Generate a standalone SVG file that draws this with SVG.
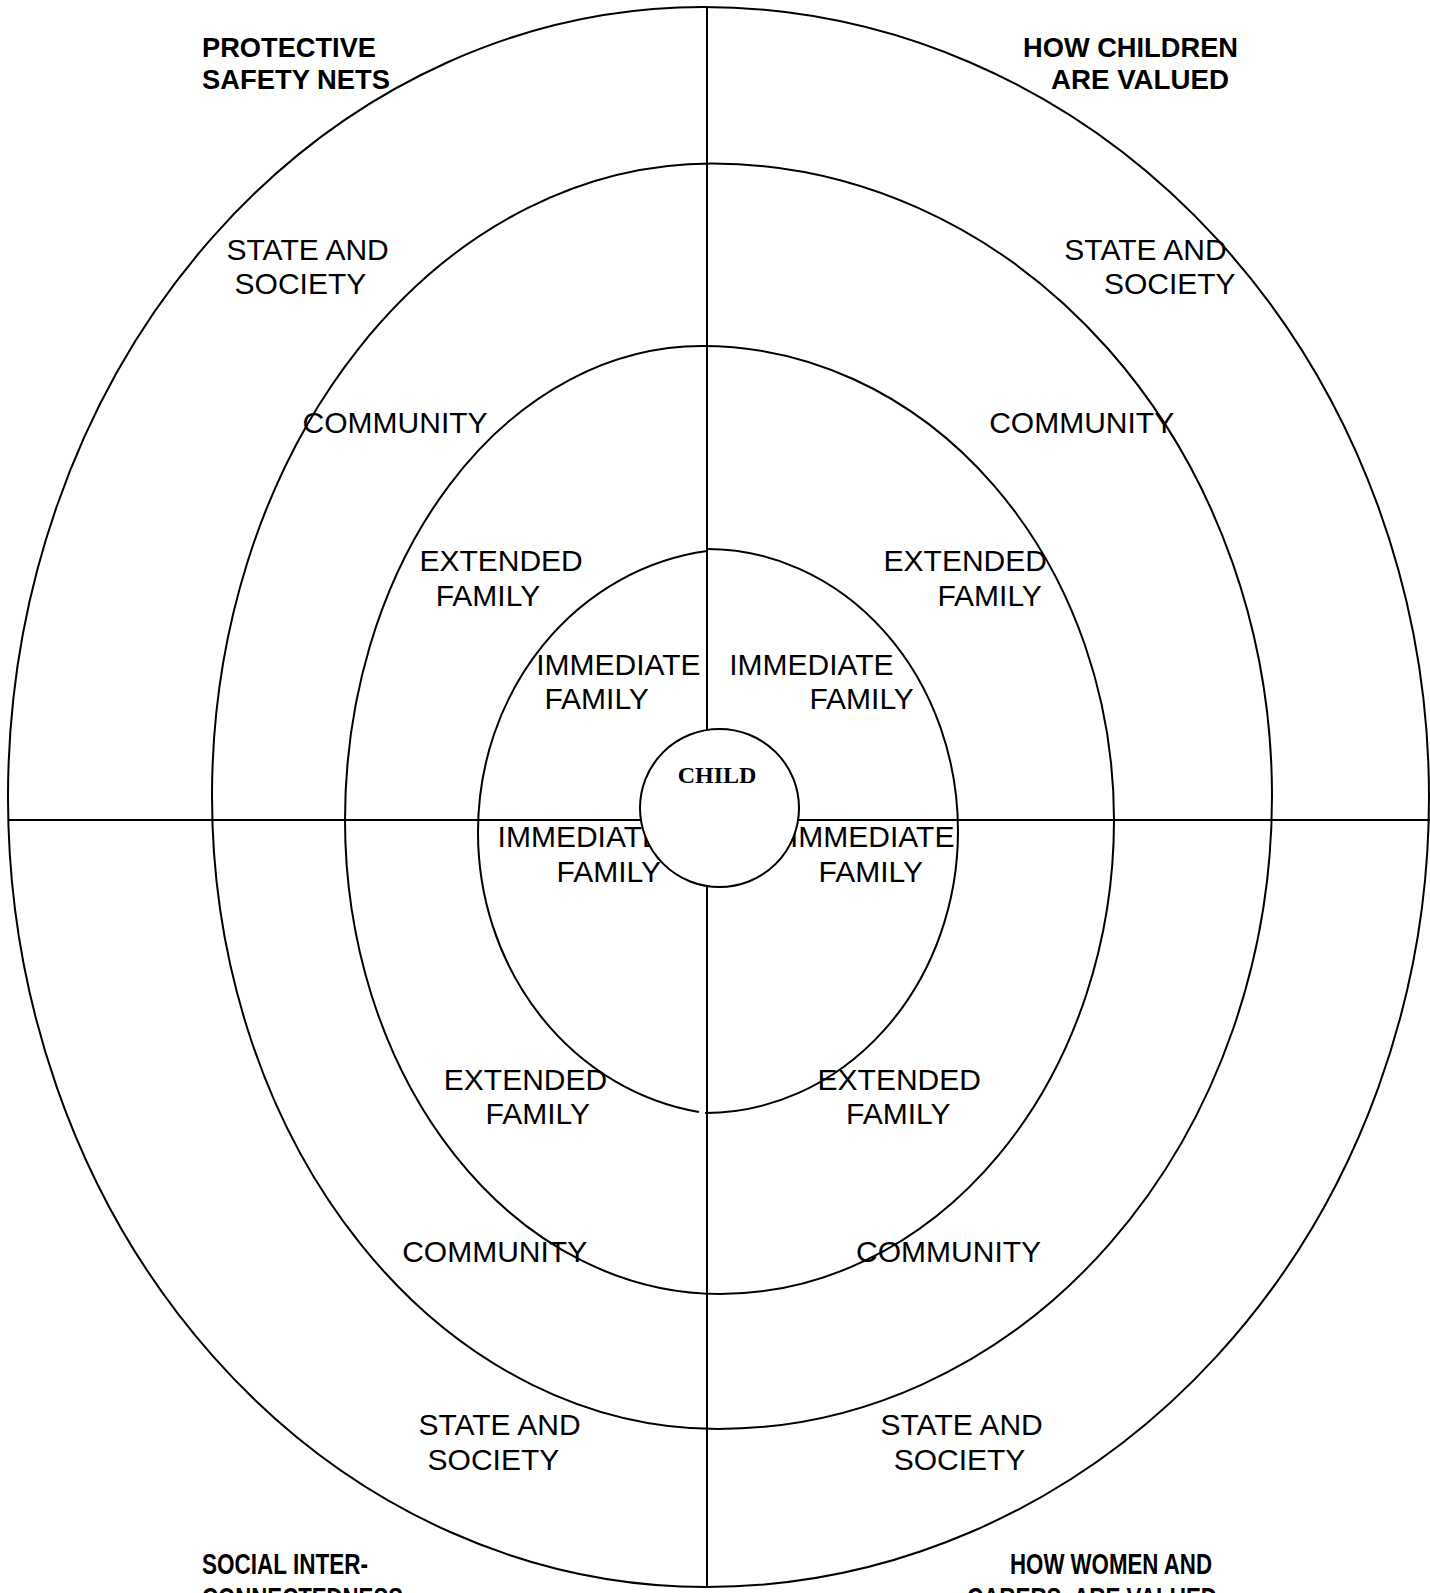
<svg xmlns="http://www.w3.org/2000/svg" width="1430" height="1593" viewBox="0 0 1430 1593">
<style>
.ring{fill:none;stroke:#000;stroke-width:2}
.ax{stroke:#000;stroke-width:2}
.lbl{font-family:"Liberation Sans",Arial,sans-serif;font-size:30px;fill:#000}
.hd{font-family:"Liberation Sans",Arial,sans-serif;font-weight:bold;font-size:28px;fill:#000}
.hd2{font-family:"Liberation Sans",Arial,sans-serif;font-weight:bold;font-size:29px;fill:#000}
.child{font-family:"Liberation Serif","Times New Roman",serif;font-weight:bold;font-size:24px;fill:#000}
</style>
<rect width="1430" height="1593" fill="#fff"/>
<g id="ring-state">
<path class="ring" d="M 8 797 A 695 790 0 0 1 703 7 A 726 790 0 0 1 1429 797 A 723 790 0 0 1 706 1587 A 698 790 0 0 1 8 797 Z"/>
</g>
<g id="ring-community">
<path class="ring" d="M 212 796 A 500 632.5 0 0 1 712 163.5 A 560 632.5 0 0 1 1272 796 A 554 633 0 0 1 718 1429 A 506 633 0 0 1 212 796 Z"/>
</g>
<g id="ring-extended">
<path class="ring" d="M 345 820 A 357 474 0 0 1 702 346 A 412 474 0 0 1 1114 820 A 394 474 0 0 1 720 1294 A 375 474 0 0 1 345 820 Z"/>
</g>
<g id="ring-immediate">
<path class="ring" d="M 707 551 A 262 283 0 0 0 478 831.5 A 262 283 0 0 0 699 1112"/>
<path class="ring" d="M 707 549 A 251 282 0 0 1 958 831 A 253 282 0 0 1 705 1113"/>
</g>
<g id="connectors">
<line class="ax" x1="8" y1="820" x2="1430" y2="820"/>
<line class="ax" x1="707" y1="7" x2="707" y2="1587"/>
</g>
<g id="headings">
<text class="hd" x="202" y="57" textLength="174" lengthAdjust="spacingAndGlyphs">PROTECTIVE</text>
<text class="hd" x="202" y="88.5" textLength="188" lengthAdjust="spacingAndGlyphs">SAFETY NETS</text>
<text class="hd" x="1023" y="57" textLength="215" lengthAdjust="spacingAndGlyphs">HOW CHILDREN</text>
<text class="hd" x="1051" y="88.5" textLength="178" lengthAdjust="spacingAndGlyphs">ARE VALUED</text>
<text class="hd2" x="202" y="1574" textLength="166" lengthAdjust="spacingAndGlyphs">SOCIAL INTER-</text>
<text class="hd2" x="202" y="1608" textLength="201" lengthAdjust="spacingAndGlyphs">CONNECTEDNESS</text>
<text class="hd2" x="1010" y="1574" textLength="202" lengthAdjust="spacingAndGlyphs">HOW WOMEN AND</text>
<text class="hd2" x="967" y="1608" textLength="250" lengthAdjust="spacingAndGlyphs" xml:space="preserve">CARERS  ARE VALUED</text>
</g>
<g id="labels-top-left">
<text class="lbl" x="226.5" y="260">STATE AND</text>
<text class="lbl" x="234.6" y="294">SOCIETY</text>
<text class="lbl" x="302.6" y="433">COMMUNITY</text>
<text class="lbl" x="419.4" y="571">EXTENDED</text>
<text class="lbl" x="435.7" y="606">FAMILY</text>
<text class="lbl" x="536.2" y="675">IMMEDIATE</text>
<text class="lbl" x="544.4" y="709">FAMILY</text>
</g>
<g id="labels-top-right">
<text class="lbl" x="1064.3" y="260">STATE AND</text>
<text class="lbl" x="1103.9" y="294">SOCIETY</text>
<text class="lbl" x="989.2" y="433">COMMUNITY</text>
<text class="lbl" x="883.6" y="571">EXTENDED</text>
<text class="lbl" x="937.4" y="606">FAMILY</text>
<text class="lbl" x="729.2" y="675">IMMEDIATE</text>
<text class="lbl" x="809.4" y="709">FAMILY</text>
</g>
<g id="labels-bottom-left">
<text class="lbl" x="497.6" y="847">IMMEDIATE</text>
<text class="lbl" x="556.5" y="882">FAMILY</text>
<text class="lbl" x="443.8" y="1090">EXTENDED</text>
<text class="lbl" x="485.5" y="1124">FAMILY</text>
<text class="lbl" x="402.2" y="1262">COMMUNITY</text>
<text class="lbl" x="418.4" y="1434.5">STATE AND</text>
<text class="lbl" x="427.6" y="1470">SOCIETY</text>
</g>
<g id="labels-bottom-right">
<text class="lbl" x="790" y="847">IMMEDIATE</text>
<text class="lbl" x="818.6" y="882">FAMILY</text>
<text class="lbl" x="817.6" y="1090">EXTENDED</text>
<text class="lbl" x="846" y="1124">FAMILY</text>
<text class="lbl" x="856.1" y="1262">COMMUNITY</text>
<text class="lbl" x="880.5" y="1434.5">STATE AND</text>
<text class="lbl" x="893.7" y="1470">SOCIETY</text>
</g>
<g id="node-child">
<ellipse cx="719.5" cy="808" rx="79.5" ry="79" fill="#fff" stroke="#000" stroke-width="2"/>
<text class="child" x="717" y="783" text-anchor="middle">CHILD</text>
</g>
</svg>
